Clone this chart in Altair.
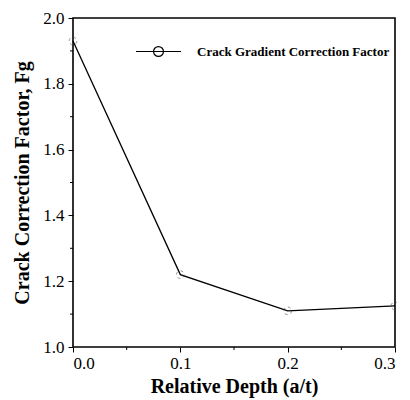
import altair as alt
import pandas as pd

depth = [0.0, 0.1, 0.2, 0.3]
factor = [1.93, 1.22, 1.11, 1.125]
series_name = "Crack Gradient Correction Factor"
x_major = [0.0, 0.1, 0.2, 0.3]
x_minor = [0.05, 0.15, 0.25]
y_major = [1.0, 1.2, 1.4, 1.6, 1.8, 2.0]
y_minor = [1.1, 1.3, 1.5, 1.7, 1.9]

W, H = 322, 329
FONT = "Liberation Serif"

df = pd.DataFrame({"depth": depth, "factor": factor, "series": series_name})
xs = alt.Scale(domain=[0, 0.3], nice=False, zero=False)
ys = alt.Scale(domain=[1.0, 2.0], nice=False, zero=False)

x_axis = alt.Axis(values=x_major, format=".1f", title="Relative Depth (a/t)", grid=False,
                  tickSize=5, labelPadding=3, titlePadding=5, domain=False)
y_axis = alt.Axis(values=y_major, format=".1f", title="Crack Correction Factor, Fg", grid=False,
                  tickSize=5, labelPadding=4, titlePadding=10, domain=False)

line = alt.Chart(df).mark_line(color="black", strokeWidth=1.3).encode(
    x=alt.X("depth:Q", scale=xs, axis=x_axis),
    y=alt.Y("factor:Q", scale=ys, axis=y_axis),
    color=alt.Color("series:N", scale=alt.Scale(domain=[series_name], range=["black"]),
                    legend=alt.Legend(title=None, orient="none", legendX=62, legendY=10,
                                      symbolType="M-1,0H1M0.22,0A0.22,0.22 0 1,1 -0.22,0A0.22,0.22 0 1,1 0.22,0",
                                      symbolSize=2025, symbolStrokeWidth=1.2, symbolFillColor="transparent",
                                      symbolStrokeColor="black", labelFont=FONT, labelFontSize=13,
                                      labelFontWeight="bold", labelOffset=15, padding=0,
                                      labelLimit=400, labelColor="black")),
)

points = alt.Chart(df).mark_point(shape="circle", filled=False, color="#555", size=60,
                                  strokeWidth=0.9, strokeDash=[3, 3]).encode(
    x=alt.X("depth:Q", scale=xs),
    y=alt.Y("factor:Q", scale=ys),
)

xminor = alt.Chart(pd.DataFrame({"v": x_minor})).mark_rule(color="black", strokeWidth=1).encode(
    x=alt.X("v:Q", scale=xs), y=alt.value(H), y2=alt.value(H + 3))
yminor = alt.Chart(pd.DataFrame({"v": y_minor})).mark_rule(color="black", strokeWidth=1).encode(
    y=alt.Y("v:Q", scale=ys), x=alt.value(0), x2=alt.value(-3))

chart = alt.layer(line, points, xminor, yminor).properties(
    width=W, height=H,
    autosize=alt.AutoSizeParams(type="none"),
    padding={"left": 65, "top": 10, "right": 2, "bottom": 51},
    background="white",
).configure_view(stroke="black", strokeWidth=1.6).configure_axis(
    labelFont=FONT, labelFontSize=17, labelColor="black", tickColor="black", tickWidth=1,
    titleFont=FONT, titleFontSize=20, titleFontWeight="bold", titleColor="black",
)

chart.save("out.html", embed_options={"renderer": "svg", "actions": False})
